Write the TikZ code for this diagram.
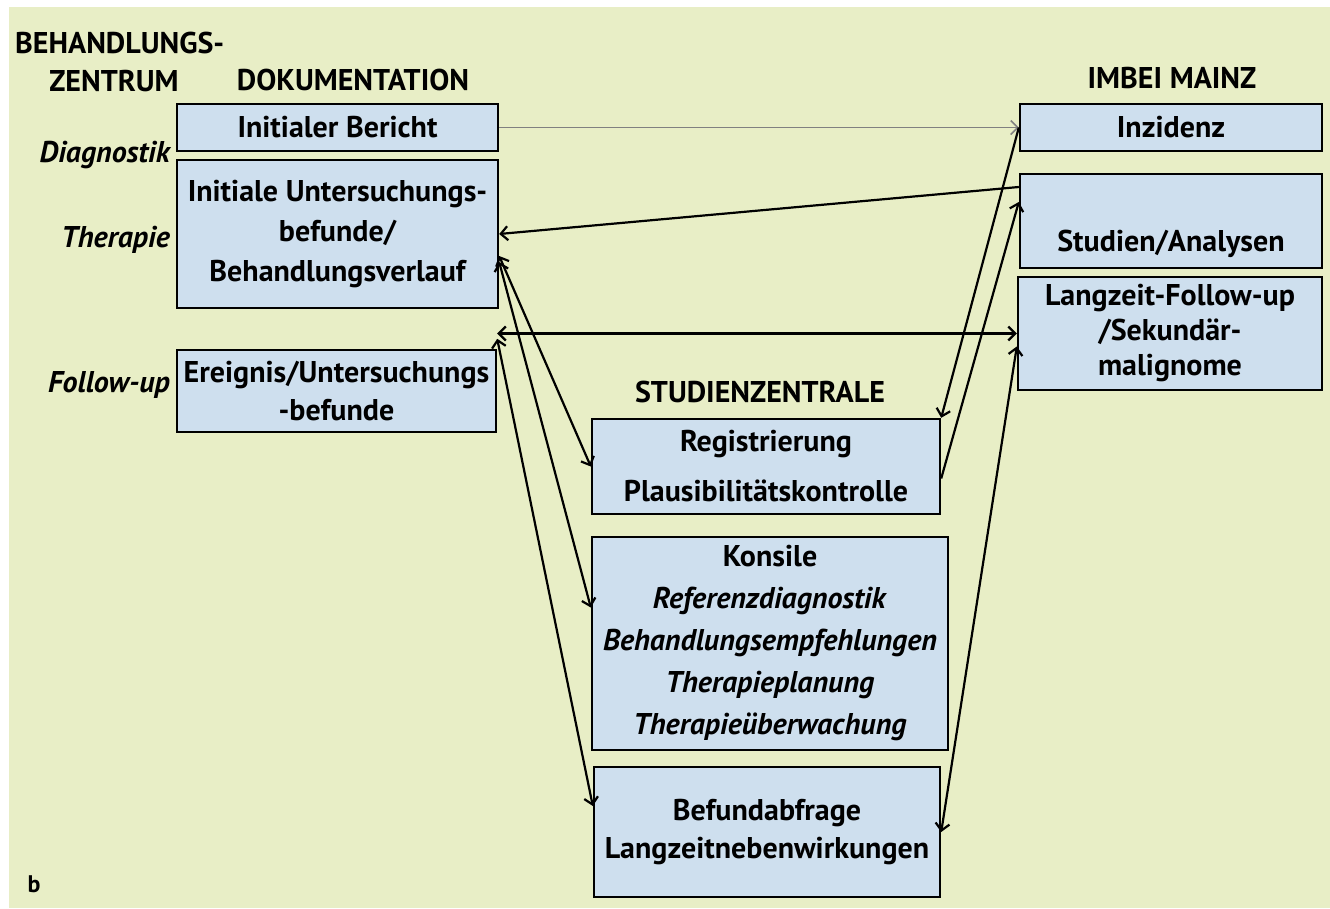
\documentclass[tikz,border=0pt]{standalone}
\usepackage{fontspec}
\setmainfont{PT Sans}
\usetikzlibrary{positioning}
\usetikzlibrary{arrows.meta}
\usetikzlibrary{calc}

\definecolor{bgyellow}{RGB}{232,238,198}
\definecolor{boxblue}{RGB}{206,223,238}

\tikzset{
  box/.style={draw=black, line width=2.4pt, fill=boxblue, align=center, inner sep=0pt,
    font=\fontsize{30}{40}\selectfont\bfseries},
  head/.style={font=\fontsize{30}{34}\selectfont\bfseries, inner sep=0pt},
  side/.style={font=\fontsize{30}{34}\selectfont\bfseries\itshape, anchor=base east, inner sep=0pt},
  link/.style={line width=2.2pt, >={Straight Barb[length=7pt,width=14pt]}},
}

\begin{document}
\begin{tikzpicture}[x=1pt,y=-1pt]
        % Paper and background
        \useasboundingbox (0,0) rectangle (1330,908);
        \fill[bgyellow] (9,7) rectangle (1330,908);

        % Column headers
        \node[head, anchor=west] (behand) at (15,43) {BEHANDLUNGS-};
        \node[head] (zentrum) at (114,81) {ZENTRUM};
        \node[head] (doku) at (353,80) {DOKUMENTATION};
        \node[head] (imbei) at (1172,78) {IMBEI MAINZ};
        \node[head] (sz) at (760,392) {STUDIENZENTRALE};

        % Row labels
        \foreach \y/\txt/\nm in {162/Diagnostik/diag, 247/Therapie/ther, 392/Follow-up/fup}
        \node[side] (\nm) at (170,\y) {\txt};

        % Documentation boxes
        \node[box, minimum width=321pt, minimum height=47pt] (bericht) at (337.5,127.5) {Initialer Bericht};
        \node[box, minimum width=321pt, minimum height=148pt] (initiale) at (337.5,234)
          {Initiale Untersuchungs-\\befunde/\\Behandlungsverlauf};
        \node[box, minimum width=319pt, minimum height=82pt, font=\fontsize{30}{38}\selectfont\bfseries] (ereignis) at (336.5,391)
          {Ereignis/Untersuchungs\\-befunde};

        % Studienzentrale boxes
        \node[box, minimum width=348pt, minimum height=95pt] (reg) at (766,466.5)
          {Registrierung\\[10pt]Plausibilitätskontrolle};
        \node[box, minimum width=356pt, minimum height=213pt, font=\fontsize{30}{42}\selectfont\bfseries] (konsile) at (770,643.5)
          {Konsile\\\textit{Referenzdiagnostik}\\\textit{Behandlungsempfehlungen}\\\textit{Therapieplanung}\\\textit{Therapieüberwachung}};
        \node[box, minimum width=346pt, minimum height=130pt, font=\fontsize{30}{38}\selectfont\bfseries] (befund) at (767,832)
          {Befundabfrage\\Langzeitnebenwirkungen};

        % IMBEI boxes
        \node[box, minimum width=302pt, minimum height=47pt] (inzidenz) at (1171,127.5) {Inzidenz};
        \node[box, minimum width=302pt, minimum height=94pt] (studien) at (1171,221) {\strut\\Studien/Analysen};
        \node[box, minimum width=304pt, minimum height=113pt, font=\fontsize{30}{35}\selectfont\bfseries] (langzeit) at (1170,333.5)
          {Langzeit-Follow-up\\/Sekundär-\\malignome};

        \node[font=\fontsize{24}{28}\selectfont\bfseries, inner sep=0pt] (panel) at (34,884) {b};

        % Draw the links
        \draw[link, ->, draw=gray, line width=1.5pt] (bericht.east) -- (inzidenz.west);
        \draw[link, ->] ([yshift=34pt]studien.west) -- (initiale.east);
        \draw[link, <->] ([yshift=-22pt]initiale.east) -- (reg.west);
        \draw[link, <->] ([yshift=-28pt]initiale.east) -- ([yshift=36pt]konsile.west);
        \draw[link, <->] ([yshift=10pt]ereignis.north east) -- ([yshift=26pt]befund.west);
        \draw[link, <->] (ereignis.east |- langzeit.west) -- (langzeit.west);
        \draw[link, ->] (inzidenz.west) -- (reg.north east);
        \draw[link, ->] ([yshift=-12pt]reg.east) -- ([yshift=19pt]studien.west);
        \draw[link, <->] (befund.east) -- ([yshift=-13pt]langzeit.west);
\end{tikzpicture}
\end{document}
